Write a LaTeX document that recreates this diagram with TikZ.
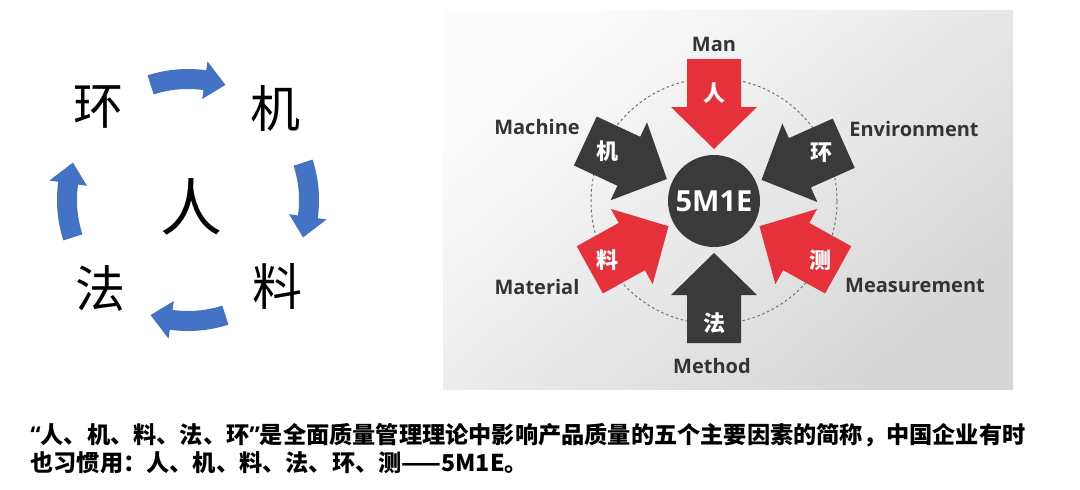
\documentclass[tikz,border=0pt]{standalone}
\usepackage{xcolor}
\usepackage{fontspec}
\setmainfont{Open Sans}
\newfontfamily\cjk{Noto Sans CJK SC}
\usepackage{tikz}
\usetikzlibrary{calc}
\definecolor{ringblue}{RGB}{68,114,196}
\definecolor{mred}{RGB}{230,48,58}
\definecolor{mdark}{RGB}{58,58,58}
\definecolor{labgray}{RGB}{52,52,52}
\tikzset{
	bigchar/.style={font=\cjk\fontsize{25pt}{25pt}\selectfont, inner sep=0pt},
	arrchar/.style={font=\cjk\bfseries\fontsize{11pt}{11pt}\selectfont, text=white, inner sep=0pt},
	factorlbl/.style={font=\bfseries\fontsize{10pt}{12pt}\selectfont, text=labgray, inner sep=0pt},
	hub/.style={circle, fill=mdark, minimum size=46pt, inner sep=0pt, text=white, font=\bfseries\fontsize{14.5pt}{15pt}\selectfont},
	capline/.style={font=\cjk\bfseries\fontsize{11.6pt}{14pt}\selectfont, anchor=west, inner sep=0pt},
}

\begin{document}
\begin{tikzpicture}[x=0.5pt, y=0.5pt]
	\useasboundingbox (0,0) rectangle (1080,489);
	% left: cycle around the man
	\begin{scope}[shift={(188,289)}]
		\foreach \a in {90,0,-90,180}
			\fill[ringblue] (\a+18:111) arc[start angle=\a+18, end angle=\a-8, radius=111]
				-- (\a-8:102) -- (\a-18:121) -- (\a-8:140) -- (\a-8:131)
				arc[start angle=\a-8, end angle=\a+18, radius=131] -- cycle;
	\end{scope}
	\node[bigchar] (huan) at (98,382) {环};
	\node[bigchar] (ji) at (275,381) {机};
	\node[bigchar, font=\cjk\fontsize{31pt}{31pt}\selectfont] (ren) at (191,282) {人};
	\node[bigchar] (fa) at (100,201) {法};
	\node[bigchar] (liao) at (277,203) {料};
	% right: 5M1E panel
	\shade[top color=black!1, bottom color=black!16, shading angle=40] (443,100) rectangle (1013,479);
	\draw[black!55, line width=0.5pt, dash pattern=on 1.3pt off 1.3pt] (714,288) circle[radius=123];
	\foreach \ang/\col/\ch/\d in {90/mred/人/108, 24/mdark/环/118, 331/mred/测/122, 270/mdark/法/122, 209/mred/料/122, 155/mdark/机/118}{
		\begin{scope}[shift={(714,288)}, rotate=\ang]
			\fill[\col] (142,27) -- (94,27) -- (94,43) -- (52,0) -- (94,-43) -- (94,-27) -- (142,-27) -- cycle;
			\node[arrchar] (c\ang) at (\d,0) {\ch};
		\end{scope}
	}
	\node[hub] (hub) at (714,288) {5M1E};
	\node[factorlbl] (man) at (714,445) {Man};
	\node[factorlbl] (mach) at (537,362) {Machine};
	\node[factorlbl] (env) at (914,360) {Environment};
	\node[factorlbl] (mat) at (537,202) {Material};
	\node[factorlbl] (meas) at (915,204) {Measurement};
	\node[factorlbl] (meth) at (712,123) {Method};
	% caption
	\node[capline] (cap1) at (30,54) {{\rmfamily“}人、机、料、法、环{\rmfamily”}是全面质量管理理论中影响产品质量的五个主要因素的简称，中国企业有时};
	\node[capline] (cap2) at (30,26) {也习惯用：人、机、料、法、环、测——5M1E。};
\end{tikzpicture}
\end{document}
